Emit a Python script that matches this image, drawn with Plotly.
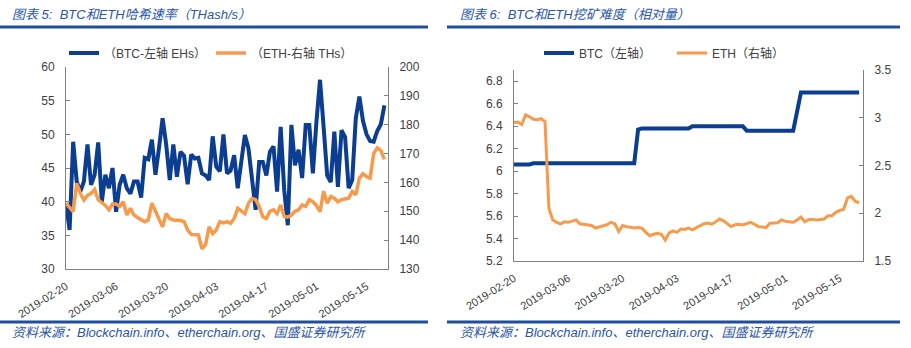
import plotly.graph_objects as go
import pandas as pd

# ---------------- data ----------------
dates = pd.date_range("2019-02-20", periods=90).strftime("%Y-%m-%d").tolist()

label_dates = ["2019-02-20", "2019-03-06", "2019-03-20", "2019-04-03",
               "2019-04-17", "2019-05-01", "2019-05-15"]

btc_hash = [39.8, 35.8, 48.9, 43.0, 41.5, 43.0, 48.5, 42.5, 44.0, 48.8,
            40.0, 44.0, 42.0, 45.0, 38.5, 42.5, 44.0, 42.0, 41.2, 43.0,
            43.0, 40.6, 46.5, 46.3, 49.2, 44.0, 48.0, 52.4, 48.5, 43.2,
            48.5, 43.7, 47.4, 46.8, 42.6, 47.0, 46.4, 46.5, 44.2, 43.9,
            43.2, 49.7, 45.2, 44.5, 50.0, 44.2, 44.6, 46.9, 42.0, 46.2,
            49.9, 47.9, 43.7, 38.8, 45.9, 45.9, 43.9, 47.4, 48.2, 41.5,
            51.1, 41.7, 36.5, 51.4, 45.4, 47.7, 43.5, 51.4, 51.4, 44.2,
            51.9, 58.1, 51.1, 43.9, 42.9, 50.4, 42.2, 50.6, 49.6, 42.0,
            43.2, 52.4, 55.6, 52.0, 50.0, 49.0, 48.9, 50.5, 51.5, 54.3]

eth_hash = [152.8, 151.5, 149.9, 159.7, 156.2, 153.9, 155.5, 156.2, 157.5, 154.0,
            153.0, 152.0, 150.5, 152.5, 152.5, 151.7, 153.3, 148.7, 151.0, 148.7,
            147.8, 147.0, 146.4, 147.0, 152.8, 150.0, 147.5, 144.6, 149.2, 147.5,
            147.0, 147.0, 146.8, 146.4, 143.5, 142.0, 141.8, 141.8, 137.0, 138.4,
            144.6, 142.3, 143.5, 146.4, 146.0, 146.4, 145.8, 147.5, 151.0, 150.0,
            149.2, 152.8, 154.5, 154.0, 151.7, 148.2, 147.5, 150.0, 150.5, 149.2,
            152.2, 148.2, 148.0, 148.7, 150.0, 150.5, 152.2, 151.7, 154.0, 153.3,
            152.0, 149.9, 156.9, 152.8, 155.1, 154.5, 153.3, 154.0, 154.2, 154.5,
            156.9, 155.7, 161.5, 163.0, 162.0, 161.5, 170.0, 172.0, 171.0, 168.0]

btc_diff = [6.06, 6.06, 6.06, 6.06, 6.06, 6.07, 6.07, 6.07, 6.07, 6.07,
            6.07, 6.07, 6.07, 6.07, 6.07, 6.07, 6.07, 6.07, 6.07, 6.07,
            6.07, 6.07, 6.07, 6.07, 6.07, 6.07, 6.07, 6.07, 6.07, 6.07,
            6.07, 6.07, 6.37, 6.38, 6.38, 6.38, 6.38, 6.38, 6.38, 6.38,
            6.38, 6.38, 6.38, 6.38, 6.38, 6.38, 6.40, 6.40, 6.40, 6.40,
            6.40, 6.40, 6.40, 6.40, 6.40, 6.40, 6.40, 6.40, 6.40, 6.40,
            6.36, 6.36, 6.36, 6.36, 6.36, 6.36, 6.36, 6.36, 6.36, 6.36,
            6.36, 6.36, 6.36, 6.53, 6.70, 6.70, 6.70, 6.70, 6.70, 6.70,
            6.70, 6.70, 6.70, 6.70, 6.70, 6.70, 6.70, 6.70, 6.70, 6.70]

eth_diff = [2.95, 2.955, 2.93, 3.03, 3.01, 2.985, 2.98, 2.99, 2.96, 2.05,
            1.93, 1.905, 1.89, 1.91, 1.905, 1.915, 1.93, 1.89, 1.885, 1.88,
            1.872, 1.845, 1.858, 1.868, 1.88, 1.905, 1.89, 1.81, 1.872, 1.86,
            1.85, 1.845, 1.85, 1.844, 1.80, 1.765, 1.78, 1.79, 1.78, 1.72,
            1.795, 1.815, 1.80, 1.835, 1.83, 1.845, 1.826, 1.85, 1.872, 1.89,
            1.897, 1.885, 1.91, 1.939, 1.92, 1.89, 1.86, 1.88, 1.885, 1.878,
            1.89, 1.905, 1.885, 1.86, 1.855, 1.85, 1.895, 1.897, 1.90, 1.93,
            1.915, 1.91, 1.905, 1.93, 1.96, 1.91, 1.935, 1.935, 1.93, 1.935,
            1.94, 1.974, 1.975, 2.01, 2.03, 2.04, 2.16, 2.177, 2.125, 2.11]

x_range = ["2019-02-20", "2019-05-21"]

# ---------------- style ----------------
W, H = 911, 348
BLUE = "#0B3D91"
ORANGE = "#F79A4B"
AXIS = "#808080"
TXT = "#404040"
HEAD = "#2A56A8"
RULE = "#1F4E9E"
XTICKFONT = dict(family="Liberation Sans, Arial, sans-serif", size=11, color=TXT)
YTICKFONT = dict(family="Liberation Sans, Arial, sans-serif", size=12, color=TXT)
LEGFONT = dict(family="Liberation Sans, Noto Sans CJK SC, sans-serif", size=12, color=TXT)

def px(x):
    return x / W

def py(y):
    return 1 - y / H

fig = go.Figure()
fig.add_trace(go.Scatter(x=dates, y=btc_hash, name="（BTC-左轴 EHs）", mode="lines",
                         line=dict(color=BLUE, width=4), xaxis="x", yaxis="y", legend="legend"))
fig.add_trace(go.Scatter(x=dates, y=eth_hash, name="（ETH-右轴 THs）", mode="lines",
                         line=dict(color=ORANGE, width=3.5), xaxis="x", yaxis="y2", legend="legend"))
fig.add_trace(go.Scatter(x=dates, y=btc_diff, name="BTC（左轴）", mode="lines",
                         line=dict(color=BLUE, width=4), xaxis="x2", yaxis="y3", legend="legend2"))
fig.add_trace(go.Scatter(x=dates, y=eth_diff, name="ETH（右轴）", mode="lines",
                         line=dict(color=ORANGE, width=3), xaxis="x2", yaxis="y4", legend="legend2"))

ten_days = 10 * 86400000

common_x = dict(type="date", range=x_range, showgrid=False, zeroline=False,
                showline=True, linecolor=AXIS, linewidth=1, automargin=False,
                tickmode="array", tickvals=label_dates, ticktext=label_dates,
                ticks="", tickangle=-32, tickfont=XTICKFONT, ticklabelstandoff=6)
tick_x = dict(type="date", range=x_range, showgrid=False, zeroline=False,
              showline=False, tickmode="linear", tick0="2019-02-20", dtick=ten_days,
              ticks="inside", ticklen=4, tickcolor=AXIS, showticklabels=False, automargin=False)
common_y = dict(showgrid=False, zeroline=False, showline=True, linecolor=AXIS,
                linewidth=1, ticks="inside", ticklen=4, tickcolor=AXIS, automargin=False,
                tickfont=YTICKFONT, ticklabelstandoff=8)

fig.update_layout(
    width=W, height=H, margin=dict(l=0, r=0, t=0, b=0, pad=0, autoexpand=False),
    paper_bgcolor="white", plot_bgcolor="white",
    xaxis=dict(domain=[px(66), px(388)], anchor="y", **common_x),
    xaxis3=dict(domain=[px(66), px(388)], anchor="y", overlaying="x", **tick_x),
    yaxis=dict(domain=[py(269), py(67)], anchor="x", range=[30, 60], dtick=5, tick0=30, **common_y),
    yaxis2=dict(anchor="x", overlaying="y", side="right", range=[130, 200], dtick=10, tick0=130, **common_y),
    xaxis2=dict(domain=[px(514), px(863)], anchor="y3", **common_x),
    xaxis4=dict(domain=[px(514), px(863)], anchor="y3", overlaying="x2", **tick_x),
    yaxis3=dict(domain=[py(261), py(70)], anchor="x2", range=[5.2, 6.9], dtick=0.2, tick0=5.2, **common_y),
    yaxis4=dict(anchor="x2", overlaying="y3", side="right", range=[1.5, 3.5], dtick=0.5, tick0=1.5, **common_y),
    legend=dict(orientation="h", x=px(211), xanchor="center", y=py(53), yanchor="middle",
                font=LEGFONT, bgcolor="rgba(0,0,0,0)", itemwidth=30),
    legend2=dict(orientation="h", x=px(672), xanchor="center", y=py(53), yanchor="middle",
                 font=LEGFONT, bgcolor="rgba(0,0,0,0)", itemwidth=30, entrywidth=88),
    showlegend=True,
)

head_font = dict(family="Liberation Sans, Noto Sans CJK SC, sans-serif", size=13, color=HEAD, style="italic")
fig.add_annotation(text="图表 5:  BTC和ETH哈希速率（THash/s）", x=px(10), y=py(14), xref="paper", yref="paper",
                   xanchor="left", yanchor="middle", showarrow=False, font=head_font)
fig.add_annotation(text="图表 6:  BTC和ETH挖矿难度（相对量）", x=px(458), y=py(14), xref="paper", yref="paper",
                   xanchor="left", yanchor="middle", showarrow=False, font=head_font)
src = "资料来源：Blockchain.info、etherchain.org、国盛证券研究所"
fig.add_annotation(text=src, x=px(10), y=py(332), xref="paper", yref="paper",
                   xanchor="left", yanchor="middle", showarrow=False, font=head_font)
fig.add_annotation(text=src, x=px(458), y=py(332), xref="paper", yref="paper",
                   xanchor="left", yanchor="middle", showarrow=False, font=head_font)

for x0, x1 in [(0, 428), (447, 900)]:
    for yy in (27, 322):
        fig.add_shape(type="line", xref="paper", yref="paper", x0=px(x0), x1=px(x1),
                      y0=py(yy), y1=py(yy), line=dict(color=RULE, width=3))

fig.write_html("out.html")
